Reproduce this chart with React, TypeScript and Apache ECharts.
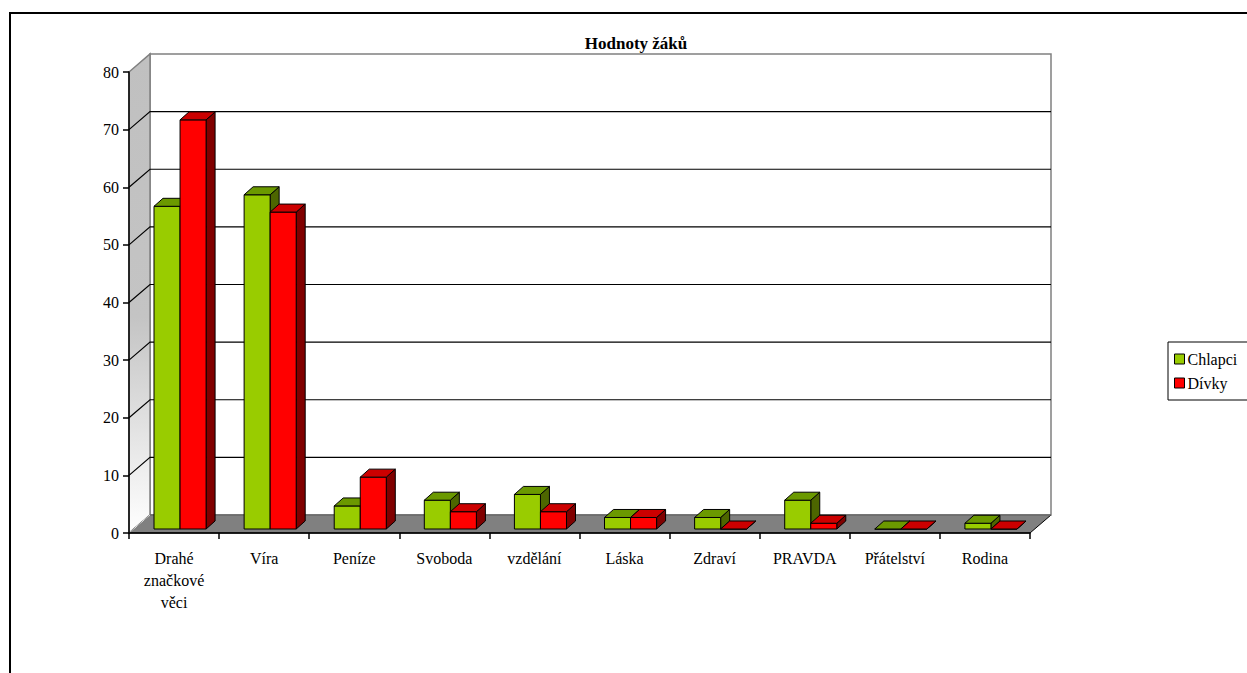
import React, { useEffect, useRef } from "react";
import * as echarts from "echarts";

const categories = [
  "Drahé značkové věci",
  "Víra",
  "Peníze",
  "Svoboda",
  "vzdělání",
  "Láska",
  "Zdraví",
  "PRAVDA",
  "Přátelství",
  "Rodina",
];
const chlapci = [56, 58, 4, 5, 6, 2, 2, 5, 0, 1];
const divky = [71, 55, 9, 3, 3, 2, 0, 1, 0, 0];
const yTicks = [0, 10, 20, 30, 40, 50, 60, 70, 80];
const seriesNames = ["Chlapci", "Dívky"];
const titleText = "Hodnoty žáků";

const FONT = "Liberation Serif";
const WALL = { dx: 21, dy: -18 };
const BAR_OFF = { dx: 6, dy: -4 };
const BAR_DEPTH = { dx: 9, dy: -8 };

const colors = [
  { front: "#99CC00", top: "#6B9900", side: "#4D6600" },
  { front: "#FF0000", top: "#CC0000", side: "#800000" },
];

function makeBarRender(s: number) {
  return (params: any, api: any) => {
    const idx = api.value(0);
    const val = api.value(1);
    const c0 = api.coord([idx, 0]);
    const c1 = api.coord([idx, val]);
    const bw = api.size([1, 0])[0];
    const w = bw * 0.289;
    const cx = c0[0] + BAR_OFF.dx;
    const x0 = s === 0 ? cx - w : cx;
    const x1 = x0 + w;
    const yb = c0[1] + BAR_OFF.dy;
    const yt = c1[1] + BAR_OFF.dy;
    const col = colors[s];
    const stroke = { stroke: "#000", lineWidth: 1 };
    return {
      type: "group",
      children: [
        {
          type: "polygon",
          shape: {
            points: [
              [x1, yt],
              [x1 + BAR_DEPTH.dx, yt + BAR_DEPTH.dy],
              [x1 + BAR_DEPTH.dx, yb + BAR_DEPTH.dy],
              [x1, yb],
            ],
          },
          style: { fill: col.side, ...stroke },
        },
        {
          type: "rect",
          shape: { x: x0, y: yt, width: w, height: yb - yt },
          style: { fill: col.front, ...stroke },
        },
        {
          type: "polygon",
          shape: {
            points: [
              [x0, yt],
              [x0 + BAR_DEPTH.dx, yt + BAR_DEPTH.dy],
              [x1 + BAR_DEPTH.dx, yt + BAR_DEPTH.dy],
              [x1, yt],
            ],
          },
          style: { fill: col.top, ...stroke },
        },
      ],
    };
  };
}

function renderWalls(params: any, api: any) {
  const cs = params.coordSys;
  const L = cs.x;
  const R = cs.x + cs.width;
  const T = cs.y;
  const B = cs.y + cs.height;
  const { dx, dy } = WALL;
  const children: any[] = [];
  children.push({
    type: "rect",
    shape: { x: L + dx, y: T + dy, width: R - L, height: B - T },
    style: { fill: "#fff", stroke: "#808080", lineWidth: 1.5 },
  });
  children.push({
    type: "polygon",
    shape: {
      points: [
        [L, B],
        [L + dx, B + dy],
        [L + dx, T + dy],
        [L, T],
      ],
    },
    style: {
      fill: new echarts.graphic.LinearGradient(0, 0, 0, 1, [
        { offset: 0, color: "#C0C0C0" },
        { offset: 0.55, color: "#C4C4C4" },
        { offset: 1, color: "#FFFFFF" },
      ]),
      stroke: "#808080",
      lineWidth: 1.5,
    },
  });
  yTicks.forEach((v) => {
    if (v === 0 || v === yTicks[yTicks.length - 1]) return;
    const y = api.coord([0, v])[1];
    children.push({
      type: "polyline",
      shape: {
        points: [
          [L, y],
          [L + dx, y + dy],
          [R + dx, y + dy],
        ],
      },
      style: { fill: null, stroke: "#000", lineWidth: 1.2 },
    });
  });
  children.push({
    type: "polygon",
    shape: {
      points: [
        [L, B],
        [L + dx, B + dy],
        [R + dx, B + dy],
        [R, B],
      ],
    },
    style: { fill: "#808080", stroke: "#000", lineWidth: 1 },
  });
  children.push({
    type: "line",
    shape: { x1: L + dx, y1: B + dy, x2: R + dx, y2: B + dy },
    style: { stroke: "#9a9a9a", lineWidth: 1 },
  });
  children.push({
    type: "line",
    shape: { x1: L, y1: B, x2: L + dx, y2: B + dy },
    style: { stroke: "#e8e8e8", lineWidth: 1 },
  });
  return { type: "group", children };
}

export default function App() {
  const ref = useRef<HTMLDivElement>(null);
  useEffect(() => {
    if (!ref.current) return;
    const chart = echarts.init(ref.current, null, { renderer: "svg" });
    chart.setOption({
      animation: false,
      backgroundColor: "#fff",
      color: [colors[0].front, colors[1].front],
      title: {
        text: titleText,
        left: 631,
        top: 30,
        textAlign: "center",
        textStyle: {
          fontFamily: FONT,
          fontSize: 17,
          fontWeight: "bold",
          color: "#000",
        },
      },
      legend: {
        data: seriesNames,
        orient: "vertical",
        left: 1168,
        top: 342,
        padding: [9, 14, 9, 6],
        itemGap: 8,
        itemWidth: 10,
        itemHeight: 10,
        itemStyle: { borderColor: "#000", borderWidth: 1 },
        borderColor: "#000",
        borderWidth: 1,
        backgroundColor: "#fff",
        icon: "rect",
        textStyle: { fontFamily: FONT, fontSize: 16, color: "#000", padding: [0, 0, 0, -2] },
      },
      graphic: [
        {
          type: "rect",
          silent: true,
          z: -10,
          shape: { x: 10, y: 13, width: 1400, height: 800 },
          style: { fill: "none", stroke: "#000", lineWidth: 2 },
        },
      ],
      grid: { left: 129, top: 72, width: 901, height: 461 },
      xAxis: {
        type: "category",
        data: categories,
        boundaryGap: true,
        axisLine: { show: true, lineStyle: { color: "#000", width: 1.5 } },
        axisTick: { show: true, length: 6, lineStyle: { color: "#000", width: 1.5 } },
        axisLabel: {
          interval: 0,
          margin: 14,
          fontFamily: FONT,
          fontSize: 16,
          color: "#000",
          lineHeight: 22,
          formatter: (v: string) => v.split(" ").join("\n"),
        },
        splitLine: { show: false },
        z: 5,
      },
      yAxis: {
        type: "value",
        min: 0,
        max: 80,
        interval: 10,
        axisLine: { show: true, lineStyle: { color: "#000", width: 1.5 } },
        axisTick: { show: true, length: 6, lineStyle: { color: "#000", width: 1.5 } },
        axisLabel: {
          margin: 10,
          fontFamily: FONT,
          fontSize: 16,
          color: "#000",
        },
        splitLine: { show: false },
        z: 5,
      },
      series: [
        {
          name: "walls",
          type: "custom",
          renderItem: renderWalls,
          data: [[0, 0]],
          z: 1,
          silent: true,
        },
        {
          name: seriesNames[0],
          type: "custom",
          renderItem: makeBarRender(0),
          itemStyle: { color: colors[0].front },
          data: chlapci.map((v, i) => [i, v]),
          z: 3,
        },
        {
          name: seriesNames[1],
          type: "custom",
          renderItem: makeBarRender(1),
          itemStyle: { color: colors[1].front },
          data: divky.map((v, i) => [i, v]),
          z: 4,
        },
      ],
    });
    return () => chart.dispose();
  }, []);
  return (
    <div
      ref={ref}
      style={{ position: "absolute", left: 0, top: 0, width: 1247, height: 673 }}
    />
  );
}
